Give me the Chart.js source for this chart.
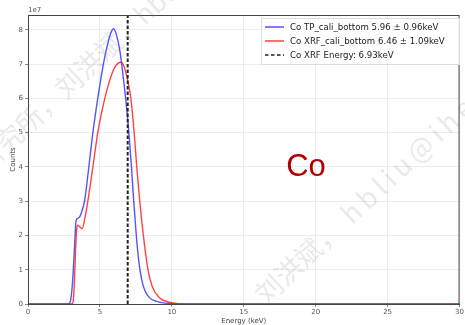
<!DOCTYPE html>
<html>
<head>
<meta charset="utf-8">
<script src="https://cdn.jsdelivr.net/npm/chart.js@4"></script>
<style>
  html, body { margin: 0; padding: 0; background: #fff; }
  #wrap { width: 465px; height: 325px; }
</style>
</head>
<body>
<div id="wrap"><canvas id="chart" width="465" height="325"></canvas></div>
<script>
// counts are in units of 1e7 (matplotlib offset label)
const blueX = [0, 2.8, 2.93, 3.05, 3.15, 3.25, 3.32, 3.4, 3.55, 3.7, 3.93, 4.23, 4.51, 4.85, 5.24, 5.49, 5.75, 5.95, 6.15, 6.4, 6.6, 6.8, 6.93, 7.05, 7.2, 7.35, 7.52, 7.7, 7.9, 8.1, 8.4, 9.0, 9.8, 11, 30];
const blueY = [0, 0, 0.05, 0.4, 1.0, 1.8, 2.35, 2.48, 2.52, 2.65, 3.0, 4.0, 5.0, 6.0, 7.0, 7.5, 7.9, 8.03, 7.85, 7.35, 6.7, 5.95, 5.4, 4.8, 3.95, 3.0, 2.05, 1.25, 0.72, 0.42, 0.2, 0.07, 0.015, 0, 0];

const redX = [0, 3.0, 3.13, 3.22, 3.3, 3.37, 3.43, 3.55, 3.77, 3.95, 4.16, 4.51, 4.85, 5.1, 5.4, 5.7, 6.0, 6.25, 6.48, 6.7, 6.93, 7.15, 7.38, 7.56, 7.77, 8.02, 8.34, 8.64, 9.1, 9.8, 10.6, 12, 30];
const redY = [0, 0, 0.05, 0.6, 1.5, 2.1, 2.3, 2.27, 2.2, 2.5, 3.0, 4.0, 5.0, 5.55, 6.1, 6.55, 6.88, 7.02, 7.05, 6.9, 6.52, 6.0, 5.0, 4.0, 3.0, 2.0, 1.0, 0.5, 0.2, 0.05, 0.01, 0, 0];

const xrfEnergy = 6.93;
const yTop = 8.43;

const xTicks = [0, 5, 10, 15, 20, 25, 30];
const yTicks = [0, 1, 2, 3, 4, 5, 6, 7, 8];

const legendLabels = [
  'Co TP_cali_bottom 5.96 \u00b1 0.96keV',
  'Co XRF_cali_bottom 6.46 \u00b1 1.09keV',
  'Co XRF Energy: 6.93keV'
];

const blueColor = 'rgba(40,40,255,0.8)';
const redColor = 'rgba(255,20,20,0.8)';

function toPoints(xs, ys) {
  return xs.map((x, i) => ({ x: x, y: ys[i] }));
}

// spines, offset label, legend box, big "Co" and the watermark
const extrasPlugin = {
  id: 'extras',
  afterDraw(chart) {
    const ctx = chart.ctx;
    const a = chart.chartArea;
    ctx.save();
    ctx.strokeStyle = '#444';
    ctx.lineWidth = 1;
    ctx.strokeRect(a.left + 0.5, a.top + 0.5, a.right - a.left - 1, a.bottom - a.top);

    ctx.fillStyle = '#555';
    ctx.font = '7px "DejaVu Sans"';
    ctx.textAlign = 'left';
    ctx.textBaseline = 'bottom';
    ctx.fillText('1e7', a.left, a.top - 1);

    // legend
    const lx = 261, ly = 18, lw = 198, lh = 46;
    ctx.fillStyle = 'rgba(255,255,255,0.85)';
    ctx.strokeStyle = '#ddd';
    ctx.fillRect(lx, ly, lw, lh);
    ctx.strokeRect(lx + 0.5, ly + 0.5, lw, lh);
    const cols = [blueColor, redColor, '#222'];
    ctx.font = '8.6px "DejaVu Sans"';
    ctx.textBaseline = 'middle';
    legendLabels.forEach((t, i) => {
      const yy = ly + 9 + i * 14;
      ctx.beginPath();
      ctx.strokeStyle = cols[i];
      ctx.lineWidth = 1.5;
      ctx.setLineDash(i === 2 ? [3.5, 2.5] : []);
      ctx.moveTo(265, yy);
      ctx.lineTo(284, yy);
      ctx.stroke();
      ctx.setLineDash([]);
      ctx.fillStyle = '#222';
      ctx.fillText(t, 290, yy + 0.5);
    });

    // element label
    ctx.fillStyle = '#b00000';
    ctx.font = '31px "Liberation Sans"';
    ctx.textAlign = 'center';
    ctx.textBaseline = 'middle';
    ctx.fillText('Co', 306, 167);

    // watermark
    ctx.fillStyle = 'rgba(120,120,120,0.16)';
    ctx.font = '27px "Noto Sans CJK SC"';
    ctx.textBaseline = 'alphabetic';
    ctx.save();
    ctx.translate(66, 100);
    ctx.rotate(-43 * Math.PI / 180);
    ctx.textAlign = 'left';
    ctx.fillText('\u5218\u6d2a\u658c\uff0chbliu', 0, 0);
    ctx.textAlign = 'right';
    ctx.fillText('\u7269\u7406\u7814\u7a76\u6240\uff0c', 0, 0);
    ctx.restore();
    ctx.save();
    ctx.translate(266, 306);
    ctx.rotate(-43 * Math.PI / 180);
    ctx.textAlign = 'left';
    ctx.fillText('\u5218\u6d2a\u658c\uff0c', 0, 0);
    ctx.letterSpacing = '5px';
    ctx.fillText('hbliu@ihep.ac.cn', 118, 0);
    ctx.restore();
    ctx.restore();
  }
};

new Chart(document.getElementById('chart'), {
  type: 'line',
  data: {
    datasets: [
      {
        label: legendLabels[2],
        data: [{ x: xrfEnergy, y: 0 }, { x: xrfEnergy, y: yTop }],
        borderColor: '#222',
        borderWidth: 2,
        borderDash: [3.5, 2],
        pointRadius: 0,
        tension: 0,
        order: 0
      },
      {
        label: legendLabels[1],
        data: toPoints(redX, redY),
        borderColor: redColor,
        borderWidth: 1.4,
        pointRadius: 0,
        cubicInterpolationMode: 'monotone',
        order: 1
      },
      {
        label: legendLabels[0],
        data: toPoints(blueX, blueY),
        borderColor: blueColor,
        borderWidth: 1.4,
        pointRadius: 0,
        cubicInterpolationMode: 'monotone',
        order: 2
      }
    ]
  },
  options: {
    responsive: false,
    animation: false,
    layout: { padding: { left: 0, top: 15, right: 2, bottom: 0 } },
    plugins: { legend: { display: false }, tooltip: { enabled: false } },
    scales: {
      x: {
        type: 'linear',
        min: 0,
        max: 30,
        afterBuildTicks: s => { s.ticks = xTicks.map(v => ({ value: v })); },
        afterFit: s => { s.height = 21; },
        grid: { color: '#ececec', tickLength: 3, tickColor: '#888' },
        border: { color: '#444' },
        ticks: { color: '#555', font: { size: 7, family: 'DejaVu Sans' }, padding: 1, maxRotation: 0 },
        title: { display: true, text: 'Energy (keV)', color: '#444', font: { size: 7, family: 'DejaVu Sans' }, padding: 0 }
      },
      y: {
        type: 'linear',
        min: 0,
        max: yTop,
        afterBuildTicks: s => { s.ticks = yTicks.map(v => ({ value: v })); },
        afterFit: s => { s.width = 28; },
        grid: { color: '#ececec', tickLength: 3, tickColor: '#888' },
        border: { color: '#444' },
        ticks: { color: '#555', font: { size: 7, family: 'DejaVu Sans' }, padding: 2 },
        title: { display: true, text: 'Counts', color: '#444', font: { size: 7, family: 'DejaVu Sans' }, padding: { top: 9, bottom: 0 } }
      }
    }
  },
  plugins: [extrasPlugin]
});
</script>
</body>
</html>
